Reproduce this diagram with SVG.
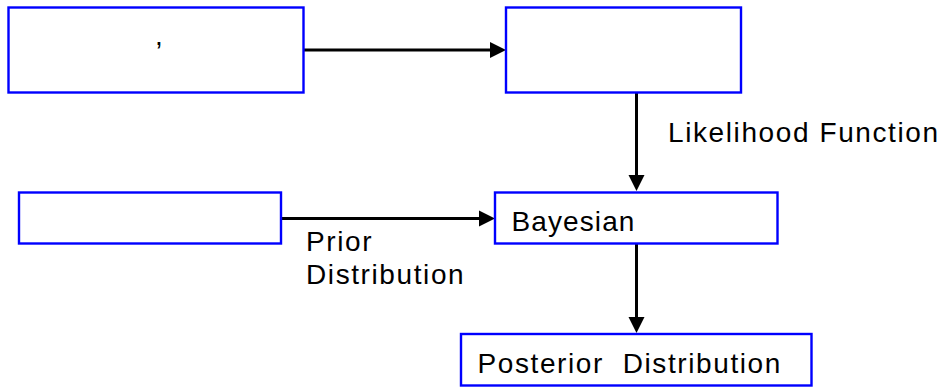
<svg xmlns="http://www.w3.org/2000/svg" width="946" height="387" viewBox="0 0 946 387">
  <style>
    .box { fill: #ffffff; stroke: #0000ff; stroke-width: 2.4; }
    .edge { stroke: #000000; stroke-width: 3; fill: none; }
    .head { fill: #000000; }
    .lbl { font-family: "Liberation Sans", Arial, sans-serif; font-size: 28px; letter-spacing: 1.6px; fill: #000000; }
  </style>
  <rect x="0" y="0" width="946" height="387" fill="#ffffff"/>

  <!-- connectors -->
  <g id="connectors">
    <line class="edge" x1="304" y1="50" x2="492" y2="50"/>
    <polygon class="head" points="506,50 490,42 490,58"/>

    <line class="edge" x1="636.5" y1="93" x2="636.5" y2="178"/>
    <polygon class="head" points="636.5,191 628.5,175 644.5,175"/>
    <text class="lbl" x="668" y="142">Likelihood Function</text>

    <line class="edge" x1="282" y1="218.5" x2="481" y2="218.5"/>
    <polygon class="head" points="495,218.5 479,210.5 479,226.5"/>
    <text class="lbl" x="306" y="251">Prior</text>
    <text class="lbl" x="306" y="284">Distribution</text>

    <line class="edge" x1="636.5" y1="244" x2="636.5" y2="320"/>
    <polygon class="head" points="636.5,333 628.5,317 644.5,317"/>
  </g>

  <!-- nodes -->
  <g id="node-top-left">
    <rect class="box" x="8.5" y="7.5" width="295" height="85"/>
    <text class="lbl" x="155" y="45">,</text>
  </g>
  <g id="node-top-right">
    <rect class="box" x="506" y="7.5" width="235" height="85"/>
  </g>
  <g id="node-prior">
    <rect class="box" x="19" y="192.5" width="262" height="51"/>
  </g>
  <g id="node-bayesian">
    <rect class="box" x="495" y="192.5" width="282.5" height="51"/>
    <text class="lbl" x="511.5" y="231" style="letter-spacing:1.1px">Bayesian</text>
  </g>
  <g id="node-posterior">
    <rect class="box" x="461" y="334" width="350.5" height="51.5"/>
    <text class="lbl" x="477.5" y="373" xml:space="preserve">Posterior  Distribution</text>
  </g>
</svg>
